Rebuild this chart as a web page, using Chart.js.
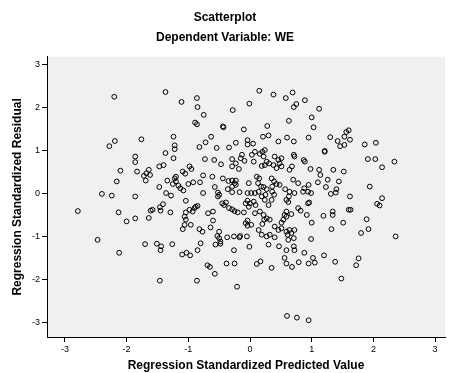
<!DOCTYPE html>
<html>
<head>
<meta charset="utf-8">
<script src="https://cdn.jsdelivr.net/npm/chart.js@4"></script>
<style>
  body { margin: 0; background: #fff; }
  canvas { display: block; }
</style>
</head>
<body>
<canvas id="grafico" width="450" height="373"></canvas>
<script>
// valores (previsto padronizado x resíduo padronizado)
const previsto = [
  -2.20, -2.28, -2.19, -1.76,
  -1.37, -1.11, -0.86, -0.85, -0.75, -0.28, -0.01, -0.89, -0.86, -0.44, -0.43, -0.10,
  -1.24, -1.22, -1.22, -0.63, -0.72, -0.82, -0.54, -0.34, -0.23, -0.04, -0.04,
  0.15, 0.38, 0.58, 0.69, 0.71, 0.75, 0.89, 1.12, 1.00, 0.63, 1.03, 0.28, 0.21, 0.30,
  0.46, 0.60, 0.71, 0.95, 1.30, 1.42, 1.46, 1.53, 1.56, 1.53, 1.21, 0.05, 0.24,
  1.60, 1.62, 1.86, 2.04,
  -1.86, -1.86, -2.10, -1.83, -1.64, -1.68, -1.72, -1.69, -1.62, -2.16, -2.40, -2.24,
  -1.86, -2.79, -2.13, -2.00, -1.86, -1.64, -1.61, -2.47, -1.70, -2.12,
  -1.37, -1.24, -1.47, -1.40, -0.73, -0.58, -0.47, -0.29, -0.23, -0.18, -0.29, -0.15,
  -0.13, -0.09, -0.98, -0.95, -1.09, -1.05, -1.34, -1.22, -1.20, -1.25, -1.20, -1.16,
  -1.13, -1.08, -1.00, -0.92, -0.81, -0.76, -0.61, -0.44, -0.35, -0.29, -0.23, -0.25,
  -0.23, -0.29, -0.57, -0.52, -0.50, -0.52, -0.36, -0.29, -0.17, -0.04, -1.47, -1.36,
  -1.28, -0.76, -1.04, -1.41, -1.46, -1.45, -1.58, -1.29, -0.98, -0.90, -0.88, -0.85,
  -0.93, -1.04, -1.06, -1.04, -1.06, -1.09, -0.96, -0.68, -0.60, -0.60, -0.82, -0.77,
  -0.64, -0.50, -0.53, -0.50, -0.48, -0.37, -0.26, -0.17, -0.45, -0.42, -0.39, -0.34,
  -0.29, -0.25, -0.20, -0.10, -0.07, -0.04, -0.02, -0.04, -0.07, -0.04, -0.16, -0.05,
  -1.51, -1.26, -0.80,
  -1.44, -1.45, -1.10, -1.03, -0.97, -0.85, -0.56, -0.48, -0.26, -0.01, -0.69, -0.65,
  -0.57, -0.38, -0.25, -1.46, -0.86, -0.21,
  0.30, 0.47, 0.59, 0.71, 0.72, 0.56, 0.59, 0.68, 0.11, 0.17, 0.35, 0.79, 0.88, 0.95,
  1.02, 1.05, 1.20, 1.38, 1.48, 0.60, 0.76, 0.95,
  1.76, 1.72,
  0.08, 0.03, 0.06, 0.16, 0.22, 0.20, 0.40, 0.46, 0.51, 0.48, 0.51, 0.43, 0.38, 0.31,
  0.24, 0.19, 0.27, 0.71, 0.72, 0.87, 0.89, 0.68, 0.64, 0.98, 1.21, 1.12, 1.14, 1.35,
  1.52, 1.26, 1.44, 1.10, 1.23, 1.40, 1.39, 1.31, 0.95, 0.88, 0.86, 0.94, 0.99, 0.70,
  0.78, 0.72, 0.64, 0.57, 0.63, 0.59, 0.62, 0.11, 0.15, 0.13, 0.18, 0.14, 0.22, 0.27,
  0.25, 0.19, 0.08, 0.02, -0.02, 0.00, 0.06, 0.09, 0.35, 0.39, 0.36, 0.43, 0.48, 0.36,
  0.39, 0.35, 0.30, 0.24, 0.78, 0.82, 0.94, 0.96, 0.92, 1.00, 0.67, 0.59, 0.56, 0.54,
  0.51, 0.59, 1.19, 1.34, 1.34, 1.51, 1.32, 1.60, 0.08, 0.16, 0.22, 0.23, 0.20, 0.27,
  0.32, 0.14, 0.19, 0.27, 0.32, 0.02, 0.40, 0.46, 0.51, 0.59, 0.64, 0.67, 0.72, 0.61,
  0.71, 0.62, 0.99, 0.40,
  1.91, 2.03, 2.14, 2.34, 1.94, 1.62, 1.63, 2.14, 2.06, 2.10, 1.89, 1.92, 1.80, 2.36
];
const residuo = [
  2.26, 1.11, 1.23, 1.27,
  2.37, 2.14, 2.23, 2.02, 1.84, 1.95, 2.10, 1.66, 1.62, 1.57, 1.55, 1.50,
  1.33, 1.13, 1.04, 1.33, 1.20, 1.09, 1.07, 1.08, 1.19, 1.25, 1.15,
  2.40, 2.31, 2.23, 2.36, 2.02, 2.09, 2.18, 1.98, 1.78, 1.70, 1.55, 1.58, 1.33, 1.36,
  1.22, 1.31, 1.22, 1.31, 1.32, 1.23, 1.11, 1.33, 1.44, 1.14, 1.00, 1.17, 1.02,
  1.48, 1.26, 1.15, 1.19,
  0.87, 0.74, 0.54, 0.52, 0.56, 0.48, 0.42, 0.31, 0.44, 0.29, 0.00, -0.04,
  -0.06, -0.40, -0.43, -0.64, -0.57, -0.56, -0.39, -1.07, -1.17, -1.37,
  0.95, 0.83, 0.64, 0.67, 0.81, 0.79, 0.69, 0.81, 0.71, 0.58, 0.64, 0.83,
  0.91, 0.77, 0.64, 0.58, 0.52, 0.47, 0.31, 0.36, 0.40, 0.23, 0.29, 0.19,
  0.13, 0.08, 0.23, 0.27, 0.27, 0.43, 0.40, 0.36, 0.30, 0.31, 0.31, 0.25,
  0.21, 0.17, 0.16, 0.03, -0.02, -0.06, 0.11, 0.04, 0.04, 0.02, 0.16, 0.02,
  -0.04, 0.02, -0.16, -0.24, -0.31, -0.39, -0.37, -0.43, -0.37, -0.33, -0.30, -0.28,
  -0.41, -0.43, -0.53, -0.60, -0.72, -0.82, -0.72, -0.45, -0.41, -0.62, -0.82, -0.88,
  -0.78, -0.88, -0.98, -1.03, -1.11, -1.01, -0.99, -1.01, -0.22, -0.26, -0.20, -0.33,
  -0.36, -0.40, -0.43, -0.43, -0.22, -0.16, -0.30, -0.62, -0.68, -0.74, -0.98, -0.99,
  -1.16, -1.17, -1.15,
  -1.22, -1.31, -1.41, -1.37, -1.43, -1.31, -1.18, -1.16, -1.31, -1.23, -1.66, -1.70,
  -1.86, -1.62, -1.62, -2.02, -2.02, -2.16,
  -1.18, -1.22, -1.31, -1.22, -1.31, -1.49, -1.62, -1.70, -1.63, -1.57, -1.72, -1.59, -1.37, -1.62,
  -1.49, -1.60, -1.43, -1.58, -1.97, -2.84, -2.88, -2.94,
  -1.50, -1.66,
  0.98, 0.91, 0.75, 0.93, 0.87, 0.98, 0.87, 0.79, 0.83, 0.71, 0.64, 0.60, 0.67, 0.71,
  0.67, 0.65, 0.75, 0.91, 0.87, 0.79, 0.75, 0.64, 0.56, 0.58, 0.98, 0.56, 0.44, 0.56,
  0.52, 0.33, 0.29, 0.27, 0.16, 0.11, 0.03, 0.00, 0.21, 0.13, 0.05, 0.05, 0.02, 0.33,
  0.25, 0.02, 0.05, 0.11, -0.06, -0.14, -0.19, 0.40, 0.36, 0.25, 0.17, 0.05, 0.16, 0.11,
  -0.02, -0.06, 0.02, 0.02, 0.25, -0.22, -0.18, -0.26, 0.36, 0.29, 0.17, 0.23, 0.21, 0.05,
  -0.02, -0.14, -0.26, -0.14, -0.33, -0.39, -0.22, -0.20, -0.49, -0.67, -0.47, -0.41, -0.49, -0.60,
  -0.67, -0.53, -0.51, -0.41, -0.49, -0.67, -0.82, -0.37, -0.45, -0.41, -0.49, -0.60, -0.70, -0.57,
  -0.60, -0.84, -0.95, -0.99, -0.95, -0.72, -0.76, -0.84, -0.80, -0.88, -0.84, -0.91, -0.84, -0.95,
  -1.03, -1.07, -1.05, -1.01,
  0.81, 0.81, 0.62, 0.75, 0.17, -0.06, -0.37, -0.10, -0.23, -0.27, -0.59, -0.82, -0.91, -0.99
];

const ticksX = [-3, -2, -1, 0, 1, 2, 3];
const ticksY = [-3, -2, -1, 0, 1, 2, 3];

const fonte = "Arial, 'Liberation Sans', sans-serif";

const pontos = previsto.map((x, i) => ({ x: x, y: residuo[i] }));

// fundo cinza da área do gráfico
const fundoArea = {
  id: 'fundoArea',
  beforeDraw(chart) {
    const a = chart.chartArea;
    const ctx = chart.ctx;
    ctx.save();
    ctx.fillStyle = '#f0f0f0';
    ctx.fillRect(a.left, a.top, a.right - a.left, a.bottom - a.top);
    ctx.restore();
  }
};

new Chart(document.getElementById('grafico'), {
  type: 'scatter',
  data: {
    datasets: [{
      data: pontos,
      pointRadius: 2.4,
      pointBorderWidth: 1,
      borderColor: '#000',
      backgroundColor: 'rgba(0,0,0,0)'
    }]
  },
  options: {
    responsive: false,
    animation: false,
    layout: { padding: 0 },
    plugins: {
      legend: { display: false },
      tooltip: { enabled: false },
      title: {
        display: true,
        text: 'Scatterplot',
        color: '#000',
        font: { family: fonte, size: 12, weight: 'bold' },
        padding: { top: 10, bottom: 6 }
      },
      subtitle: {
        display: true,
        text: 'Dependent Variable: WE',
        color: '#000',
        font: { family: fonte, size: 12, weight: 'bold' },
        padding: { top: 0, bottom: 12 }
      }
    },
    scales: {
      x: {
        type: 'linear',
        min: -3.29,
        max: 3.16,
        afterBuildTicks: s => { s.ticks = ticksX.map(v => ({ value: v })); },
        afterFit: s => { s.height = 36; },
        grid: { drawOnChartArea: false, color: '#000', tickLength: 5 },
        border: { color: '#000' },
        ticks: { color: '#000', font: { family: fonte, size: 9 }, padding: 2 },
        title: {
          display: true,
          text: 'Regression Standardized Predicted Value',
          color: '#000',
          font: { family: fonte, size: 12, weight: 'bold' },
          padding: { top: 1, bottom: 0 }
        }
      },
      y: {
        type: 'linear',
        min: -3.33,
        max: 3.19,
        afterBuildTicks: s => { s.ticks = ticksY.map(v => ({ value: v })); },
        afterFit: s => { s.width = 47; },
        grid: { drawOnChartArea: false, color: '#000', tickLength: 5 },
        border: { color: '#000' },
        ticks: { color: '#000', font: { family: fonte, size: 9 }, padding: 2 },
        title: {
          display: true,
          text: 'Regression Standardized Residual',
          color: '#000',
          font: { family: fonte, size: 12, weight: 'bold' },
          padding: { top: 10, bottom: 4 }
        }
      }
    }
  },
  plugins: [fundoArea]
});
</script>
</body>
</html>
